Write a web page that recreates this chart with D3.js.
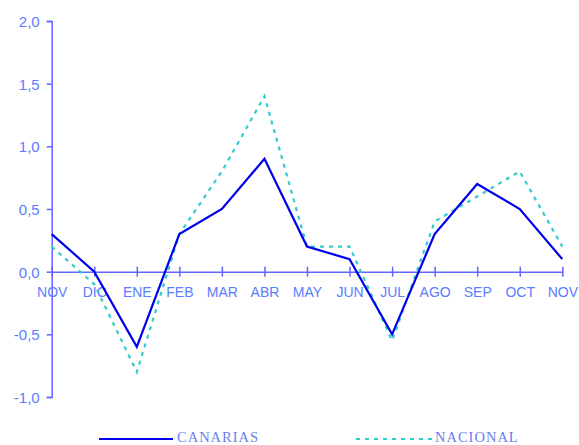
<!DOCTYPE html>
<html><head><meta charset="utf-8">
<script src="https://cdn.jsdelivr.net/npm/d3@7"></script>
<style>body{margin:0;background:#fff}svg{display:block}</style>
</head><body>
<svg id="c" width="579" height="445"></svg>
<script>
const months = ["NOV","DIC","ENE","FEB","MAR","ABR","MAY","JUN","JUL","AGO","SEP","OCT","NOV"];
const canarias = [0.3, 0.0, -0.6, 0.3, 0.5, 0.9, 0.2, 0.1, -0.5, 0.3, 0.7, 0.5, 0.1];
const nacional = [0.2, -0.1, -0.8, 0.3, 0.8, 1.4, 0.2, 0.2, -0.55, 0.4, 0.6, 0.8, 0.2];
const yTicks = [-1.0, -0.5, 0.0, 0.5, 1.0, 1.5, 2.0];
const seriesNames = ["CANARIAS", "NACIONAL"];

const svg = d3.select("#c");
const axisCol = "#6464ff", textCol = "#5a7cff";
const x = d3.scalePoint().domain(d3.range(months.length)).range([51.7, 562.3]);
const y = d3.scaleLinear().domain([-1, 2]).range([397, 21]);
const fmt = v => d3.format(".1f")(v).replace(".", ",").replace("−","-");

// y axis
const ya = svg.append("g").attr("transform", "translate(51.7,0)")
  .call(d3.axisLeft(y).tickValues(yTicks).tickSize(5).tickPadding(7).tickFormat(fmt));
ya.select(".domain").attr("stroke", axisCol).attr("stroke-width", 1.5);
ya.selectAll(".tick line").attr("stroke", axisCol).attr("stroke-width", 1.5);
ya.selectAll("text").attr("fill", textCol).attr("font-family", "Liberation Sans, Arial, sans-serif")
  .attr("font-size", 15).attr("dy", "0.36em");

// x axis at zero
const xa = svg.append("g").attr("transform", `translate(0,${y(0)})`)
  .call(d3.axisBottom(x).tickSizeOuter(0).tickSizeInner(0).tickFormat(i => months[i]).tickPadding(17));
xa.select(".domain").attr("stroke", axisCol).attr("stroke-width", 1.5);
xa.selectAll(".tick line").attr("y1", -5).attr("y2", 5).attr("stroke", axisCol).attr("stroke-width", 1.5);
xa.selectAll("text").attr("fill", textCol).attr("font-family", "Liberation Sans, Arial, sans-serif")
  .attr("font-size", 14).attr("dy", "0.62em");

const line = d3.line().x((d, i) => x(i)).y(d => y(d));
svg.append("path").datum(nacional).attr("d", line).attr("fill", "none")
  .attr("stroke", "#33cccc").attr("stroke-width", 2.2).attr("stroke-dasharray", "4,5");
svg.append("path").datum(canarias).attr("d", line).attr("fill", "none")
  .attr("stroke", "#0000ee").attr("stroke-width", 2.2).attr("stroke-linejoin", "miter");

// legend
const lg = svg.append("g");
lg.append("line").attr("x1", 99).attr("x2", 173).attr("y1", 439).attr("y2", 439)
  .attr("stroke", "#0000ee").attr("stroke-width", 2.2);
lg.append("text").attr("x", 177).attr("y", 442).text(seriesNames[0]);
lg.append("line").attr("x1", 356).attr("x2", 432).attr("y1", 439).attr("y2", 439)
  .attr("stroke", "#33cccc").attr("stroke-width", 2.2).attr("stroke-dasharray", "4,5");
lg.append("text").attr("x", 435).attr("y", 442).text(seriesNames[1]);
lg.selectAll("text").attr("fill", "#6a80ee").attr("font-family", "Liberation Serif, Times New Roman, serif")
  .attr("font-size", 14.5).attr("letter-spacing", 1);
</script>
</body></html>
